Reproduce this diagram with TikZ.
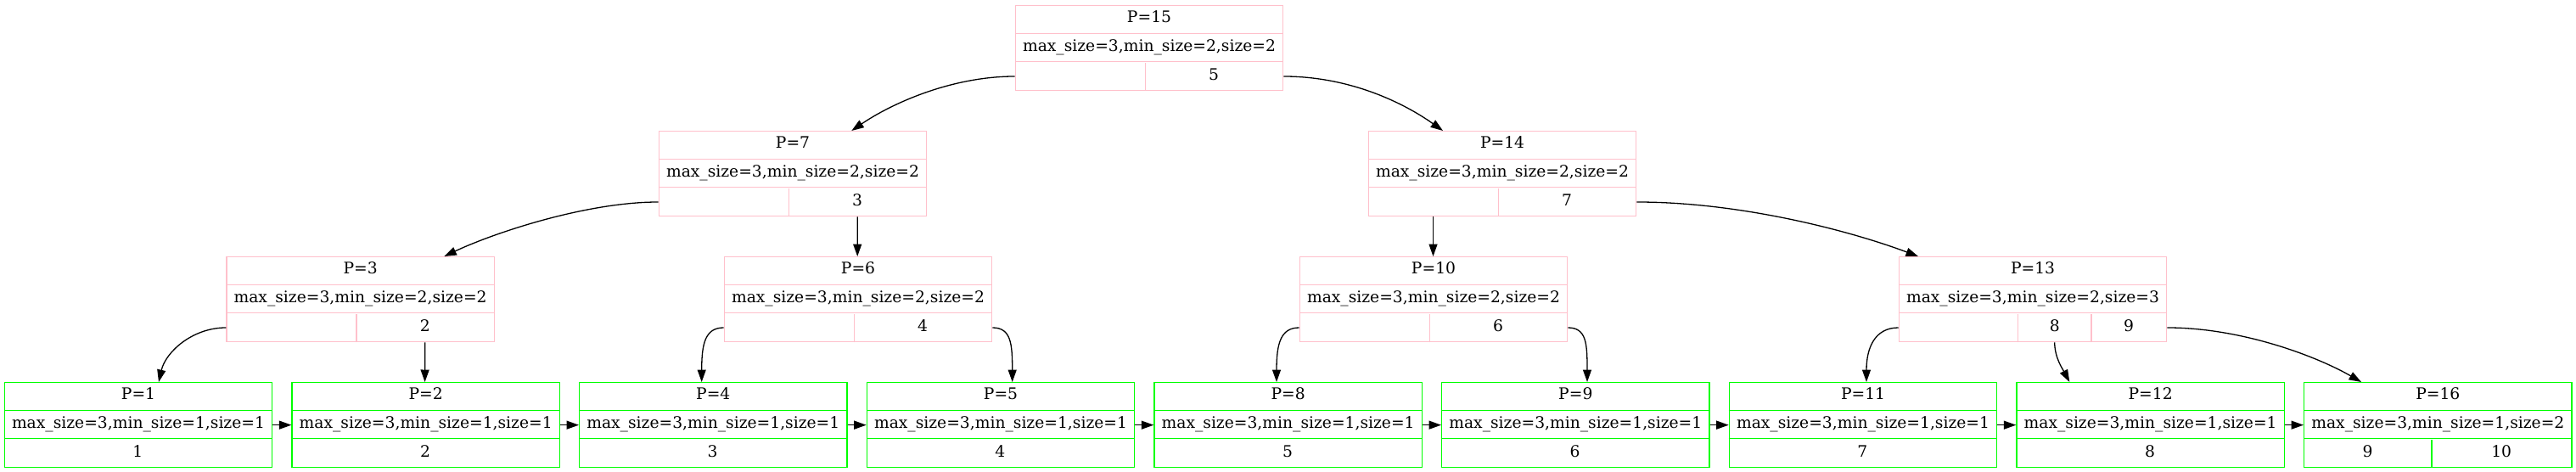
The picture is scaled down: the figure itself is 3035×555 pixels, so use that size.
\documentclass[tikz,border=0pt]{standalone}
\usepackage{fontspec}
\setmainfont{DejaVu Serif}
\usetikzlibrary{arrows.meta,calc}
\definecolor{recpink}{HTML}{FFC0CB}
\definecolor{recgreen}{HTML}{00FF00}
\tikzset{
  recbox/.style={draw=#1, line width=1.3pt, inner sep=0pt, minimum width=315.3pt, minimum height=100pt, anchor=north west},
  recline/.style={draw=#1, line width=1.3pt},
  lbl/.style={inner sep=0pt, text height=0.73em, text depth=0pt, font=\fontsize{18.7}{22}\selectfont},
  edge/.style={draw=black, line width=1.3pt, -{Triangle[length=14.5pt,width=10pt]}},
}
\newcommand{\mkrec}[6]{%
  \node[recbox=#4] (#1) at (#2,#3) {};
  \draw[recline=#4] ($(#1.north west)+(0,33.33)$) -- ($(#1.north east)+(0,33.33)$);
  \draw[recline=#4] ($(#1.north west)+(0,66.67)$) -- ($(#1.north east)+(0,66.67)$);
  \node[lbl] (#1-t) at ($(#1.north)+(0,16.67)$) {#5};
  \node[lbl] (#1-i) at (#1.center) {#6};
  \coordinate (#1-l) at ($(#1.west)+(0,33.33)$);
  \coordinate (#1-r) at ($(#1.east)+(0,33.33)$);
}
\newcommand{\mkdiv}[3]{%
  \draw[recline=#3] ($(#1.south west)+(#2,0)$) -- ($(#1.south west)+(#2,-33.33)$);
}
\newcommand{\mkval}[4]{%
  \node[lbl] (#1-#4) at ($(#1.south west)+(#2,-16.67)$) {#3};
}
\begin{document}
\begin{tikzpicture}[x=1pt,y=-1pt]
\useasboundingbox (0,0) rectangle (3035,555);
% level 0
\mkrec{n15}{1195.7}{6}{recpink}{P=15}{max\_size=3,min\_size=2,size=2}
\mkdiv{n15}{153.6}{recpink}\mkval{n15}{234.45}{5}{a}
% level 1
\mkrec{n7}{775.7}{154}{recpink}{P=7}{max\_size=3,min\_size=2,size=2}
\mkdiv{n7}{153.6}{recpink}\mkval{n7}{234.45}{3}{a}
\mkrec{n14}{1611.7}{154}{recpink}{P=14}{max\_size=3,min\_size=2,size=2}
\mkdiv{n14}{153.6}{recpink}\mkval{n14}{234.45}{7}{a}
% level 2
\mkrec{n3}{266.3}{302}{recpink}{P=3}{max\_size=3,min\_size=2,size=2}
\mkdiv{n3}{153.6}{recpink}\mkval{n3}{234.45}{2}{a}
\mkrec{n6}{852.7}{302}{recpink}{P=6}{max\_size=3,min\_size=2,size=2}
\mkdiv{n6}{153.6}{recpink}\mkval{n6}{234.45}{4}{a}
\mkrec{n10}{1530.7}{302}{recpink}{P=10}{max\_size=3,min\_size=2,size=2}
\mkdiv{n10}{153.6}{recpink}\mkval{n10}{234.45}{6}{a}
\mkrec{n13}{2236.7}{302}{recpink}{P=13}{max\_size=3,min\_size=2,size=3}
\mkdiv{n13}{140.6}{recpink}\mkdiv{n13}{227.3}{recpink}
\mkval{n13}{184}{8}{a}\mkval{n13}{271.3}{9}{b}
% leaves
\mkrec{n1}{4.7}{450}{recgreen}{P=1}{max\_size=3,min\_size=1,size=1}
\mkval{n1}{157.65}{1}{a}
\mkrec{n2}{343.4}{450}{recgreen}{P=2}{max\_size=3,min\_size=1,size=1}
\mkval{n2}{157.65}{2}{a}
\mkrec{n4}{682.0}{450}{recgreen}{P=4}{max\_size=3,min\_size=1,size=1}
\mkval{n4}{157.65}{3}{a}
\mkrec{n5}{1020.7}{450}{recgreen}{P=5}{max\_size=3,min\_size=1,size=1}
\mkval{n5}{157.65}{4}{a}
\mkrec{n8}{1359.3}{450}{recgreen}{P=8}{max\_size=3,min\_size=1,size=1}
\mkval{n8}{157.65}{5}{a}
\mkrec{n9}{1698.0}{450}{recgreen}{P=9}{max\_size=3,min\_size=1,size=1}
\mkval{n9}{157.65}{6}{a}
\mkrec{n11}{2036.7}{450}{recgreen}{P=11}{max\_size=3,min\_size=1,size=1}
\mkval{n11}{157.65}{7}{a}
\mkrec{n12}{2375.3}{450}{recgreen}{P=12}{max\_size=3,min\_size=1,size=1}
\mkval{n12}{157.65}{8}{a}
\mkrec{n16}{2714.0}{450}{recgreen}{P=16}{max\_size=3,min\_size=1,size=2}
\mkdiv{n16}{151}{recgreen}
\mkval{n16}{75.5}{9}{a}\mkval{n16}{233.2}{10}{b}
% tree edges
\draw[edge] (n15-l) .. controls +(-75,0) and +(47,-32) .. ($(n7.north west)+(227.6,0)$);
\draw[edge] (n15-r) .. controls +(79,0) and +(-45,-32) .. ($(n14.north west)+(88.3,0)$);
\draw[edge] (n7-l) .. controls +(-86,0) and +(57,-27) .. ($(n3.north west)+(257,0)$);
\draw[edge] ($(n7.south west)+(234.45,0)$) -- ($(n6.north west)+(157.5,0)$);
\draw[edge] ($(n14.south west)+(76.8,0)$) -- ($(n10.north west)+(157.8,0)$);
\draw[edge] (n14-r) .. controls +(123,0) and +(-80,-30) .. ($(n13.north west)+(23.3,0)$);
\draw[edge] (n3-l) .. controls +(-40,0) and +(8,-35) .. ($(n1.north west)+(182.3,0)$);
\draw[edge] ($(n3.south west)+(234.45,0)$) -- ($(n2.north west)+(157.2,0)$);
\draw[edge] (n6-l) .. controls +(-22,0) and +(0,-45) .. ($(n4.north west)+(144.7,0)$);
\draw[edge] (n6-r) .. controls +(22,0) and +(0,-45) .. ($(n5.north west)+(172,0)$);
\draw[edge] (n10-l) .. controls +(-22,0) and +(0,-45) .. ($(n8.north west)+(144.7,0)$);
\draw[edge] (n10-r) .. controls +(22,0) and +(0,-45) .. ($(n9.north west)+(172,0)$);
\draw[edge] (n13-l) .. controls +(-28,0) and +(0,-40) .. ($(n11.north west)+(162.3,0)$);
\draw[edge] ($(n13.south west)+(184,0)$) .. controls +(0,18) and +(-8,-15) .. ($(n12.north west)+(63,0)$);
\draw[edge] (n13-r) .. controls +(88,0) and +(-52,-30) .. ($(n16.north west)+(68,0)$);
% leaf chain
\draw[edge] (n1.east) -- (n2.west);
\draw[edge] (n2.east) -- (n4.west);
\draw[edge] (n4.east) -- (n5.west);
\draw[edge] (n5.east) -- (n8.west);
\draw[edge] (n8.east) -- (n9.west);
\draw[edge] (n9.east) -- (n11.west);
\draw[edge] (n11.east) -- (n12.west);
\draw[edge] (n12.east) -- (n16.west);
\end{tikzpicture}
\end{document}
